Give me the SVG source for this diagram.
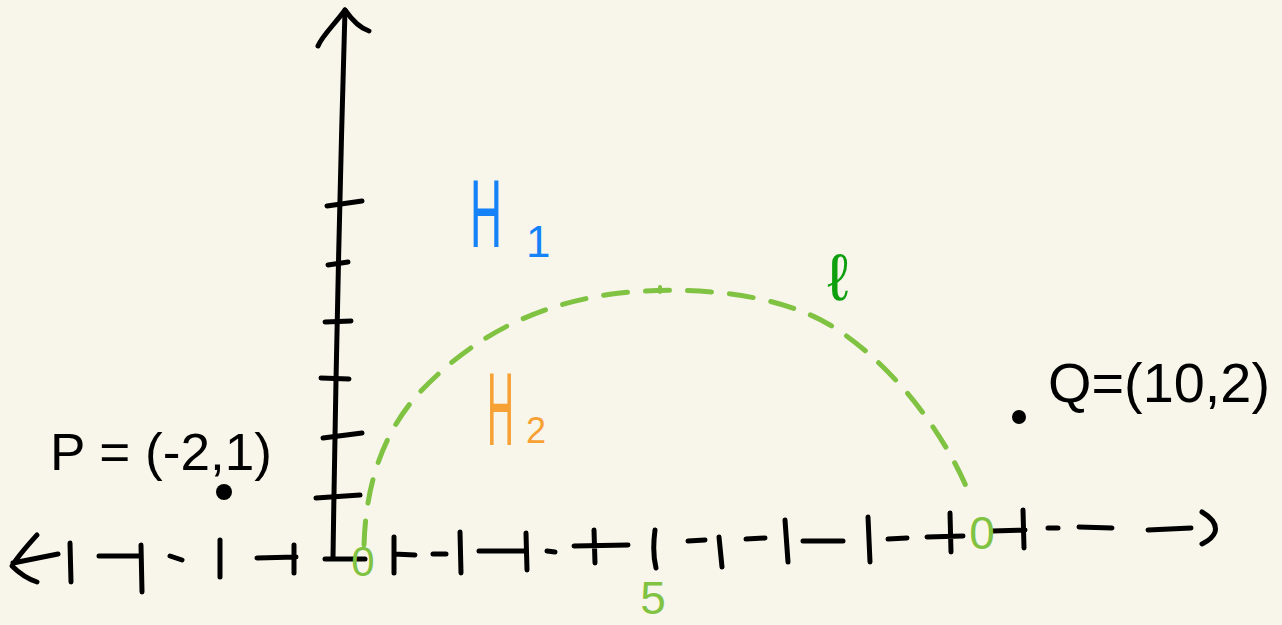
<svg xmlns="http://www.w3.org/2000/svg" width="1282" height="625" viewBox="0 0 1282 625">
<style>
.ink{fill:none;stroke:#000;stroke-width:5;stroke-linecap:round;stroke-linejoin:round}
.arc{fill:none;stroke:#80c242;stroke-width:5;stroke-linecap:round;stroke-dasharray:24 18}
.lbl{font-family:"Liberation Sans",Arial,sans-serif}
.blk{fill:#000}
.lg{fill:#80c242}
</style>
<rect width="1282" height="625" fill="#f8f6eb"/>
<g id="y-axis">
<path class="ink" d="M333,558 C335,420 338,250 345,10"/>
<path class="ink" d="M318,46 C322,36 334,25 345,10 C352,20 360,28 369,31"/>
<path class="ink" d="M327,206 L362,201 M328,265 L348,262 M325,322 L351,321 M321,378 L349,379 M323,438 L362,433 M316,498 L360,495"/>
</g>
<g id="x-axis">
<path class="ink" d="M37,535 C28,545 18,556 12,566 C20,574 28,579 37,582 M13,563 L58,554"/>
<path class="ink" d="M70,543 L71,582 M99,556 L141,556 M141,545 L142,592 M170,556 L182,560 M220,540 L220,577 M257,558 L296,557 M294,545 L294,573"/>
<path class="ink" d="M325,559 L365,559"/>
<path class="ink" d="M394,537 L394,573 M394,554 L415,555 M433,554 L446,554 M460,532 L461,573 M479,551 L524,551 M526,533 L527,570 M547,551 L555,552 M574,546 L628,545 M594,530 L595,563"/>
<path class="ink" d="M655,530 C653,545 654,560 656,568 M688,541 L705,540 M719,537 L722,567 M746,539 L765,538 M785,520 L788,562 M803,541 L843,541 M868,517 L870,562 M888,539 L907,538 M927,537 L963,536 M950,513 L951,552"/>
<path class="ink" d="M992,531 L1025,530 M1023,510 L1024,548 M1048,528 L1058,528 M1079,527 L1112,528 M1148,530 L1191,528 M1202,512 C1212,518 1217,525 1215,532 C1213,538 1208,541 1202,544"/>
</g>
<g id="curve-l">
<path class="arc" d="M364,545 C366,480 385,430 420,392 C460,350 520,305 620,293 C700,285 780,295 830,325 C880,355 940,420 971,498"/>
<path fill="none" stroke="#80c242" stroke-width="4" stroke-linecap="round" d="M660,287 L660,292"/>
</g>
<g id="point-P">
<circle cx="224" cy="492" r="8" fill="#000"/>
<text class="lbl blk" x="50" y="470" font-size="52" textLength="222" lengthAdjust="spacingAndGlyphs">P = (-2,1)</text>
</g>
<g id="point-Q">
<circle cx="1019" cy="417" r="7" fill="#000"/>
<text class="lbl blk" x="1048" y="402" font-size="56" textLength="222" lengthAdjust="spacingAndGlyphs">Q=(10,2)</text>
</g>
<g id="label-H1">
<text class="lbl" x="470" y="247" fill="#1682f8"><tspan font-size="96" textLength="32" lengthAdjust="spacingAndGlyphs">H</tspan><tspan font-size="44" dx="24" dy="10">1</tspan></text>
</g>
<g id="label-H2">
<text class="lbl" x="487" y="445" fill="#f7a033"><tspan font-size="104" textLength="27" lengthAdjust="spacingAndGlyphs">H</tspan><tspan font-size="36" dx="12" dy="-2">2</tspan></text>
</g>
<g id="label-l">
<text class="lbl" x="838" y="300" font-size="66" text-anchor="middle" fill="#0fa00f">ℓ</text>
</g>
<g id="tick-labels">
<text class="lbl lg" x="363" y="576" font-size="42" text-anchor="middle">0</text>
<text class="lbl lg" x="982" y="549" font-size="46" text-anchor="middle">0</text>
<text class="lbl lg" x="653" y="614" font-size="46" text-anchor="middle">5</text>
</g>
</svg>
